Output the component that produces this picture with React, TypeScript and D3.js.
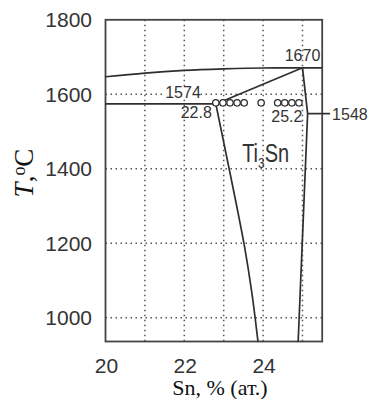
import React from "react";
import * as d3 from "d3";

const W = 370;
const H = 399;

const xTicks = [20, 22, 24];
const yTicks = [1000, 1200, 1400, 1600, 1800];
const xGrid = [21, 22, 23, 24, 25];
const yGrid = [1000, 1200, 1400, 1600];

// top curve (Sn %, T)
const topCurve: [number, number][] = [
  [20, 1647], [21, 1657], [22, 1664], [23, 1668], [24, 1670.5], [25, 1671], [25.5, 1671],
];
// horizontal at 1574
const line1574: [number, number][] = [[20, 1574], [22.8, 1574]];
// line from 22.8 up to maximum 1670
const riseLine: [number, number][] = [[22.8, 1574], [25.0, 1671]];
// right boundary of Ti3Sn
const rightBoundary: [number, number][] = [[25.0, 1671], [25.13, 1548], [24.89, 936]];
// left boundary of Ti3Sn
const leftBoundary: [number, number][] = [
  [22.8, 1574], [23.08, 1430], [23.33, 1300], [23.53, 1190], [23.71, 1070], [23.87, 936],
];
// 1548 tick
const line1548: [number, number][] = [[25.13, 1548], [25.7, 1548]];
// experimental points
const pointsX = [22.8, 22.98, 23.16, 23.34, 23.52, 23.95, 24.37, 24.55, 24.73, 24.91];
const pointsT = 1577;

export default function App() {
  const x = d3.scaleLinear().domain([20, 25.5]).range([105.5, 322.2]);
  const y = d3.scaleLinear().domain([936, 1800]).range([341.5, 19.8]);
  const line = d3.line<[number, number]>().x((d) => x(d[0])).y((d) => y(d[1]));
  const curve = d3
    .line<[number, number]>()
    .x((d) => x(d[0]))
    .y((d) => y(d[1]))
    .curve(d3.curveMonotoneX);
  const curveV = d3
    .line<[number, number]>()
    .x((d) => x(d[0]))
    .y((d) => y(d[1]))
    .curve(d3.curveMonotoneY);

  const left = x(20);
  const right = x(25.5);
  const top = y(1800);
  const bottom = y(936);
  const lineColor = "#2e2e2e";
  const textColor = "#333";
  const sans = "'Liberation Sans', Arial, sans-serif";
  const serif = "'Liberation Serif', 'Times New Roman', serif";

  return (
    <svg
      width={W}
      height={H}
      style={{ position: "absolute", left: 0, top: 0, display: "block", background: "#fff" }}
    >
      {/* grid */}
      {xGrid.map((v) => (
        <line
          key={"gx" + v}
          x1={x(v)}
          x2={x(v)}
          y1={top}
          y2={bottom}
          stroke="#555"
          strokeWidth={1.5}
          strokeDasharray="1.5,3.5"
        />
      ))}
      {yGrid.map((v) => (
        <line
          key={"gy" + v}
          x1={left}
          x2={right}
          y1={y(v)}
          y2={y(v)}
          stroke="#555"
          strokeWidth={1.5}
          strokeDasharray="1.5,3.5"
        />
      ))}

      {/* frame */}
      <rect
        x={left}
        y={top}
        width={right - left}
        height={bottom - top}
        fill="none"
        stroke="#444"
        strokeWidth={1.8}
      />

      {/* phase lines */}
      <path d={curve(topCurve) || ""} fill="none" stroke={lineColor} strokeWidth={1.7} />
      <path d={line(line1574) || ""} fill="none" stroke={lineColor} strokeWidth={1.7} />
      <path d={line(riseLine) || ""} fill="none" stroke={lineColor} strokeWidth={1.7} />
      <path d={line(rightBoundary) || ""} fill="none" stroke={lineColor} strokeWidth={1.7} />
      <path d={curveV(leftBoundary) || ""} fill="none" stroke={lineColor} strokeWidth={1.7} />
      <path d={line(line1548) || ""} fill="none" stroke={lineColor} strokeWidth={1.7} />

      {/* label background */}
      <rect x={x(22.8) - 53} y={y(1574) - 18} width={38} height={13} fill="#fff" />

      {/* points */}
      {pointsX.map((v, i) => (
        <circle
          key={"p" + i}
          cx={x(v)}
          cy={y(pointsT)}
          r={3.2}
          fill="#fff"
          stroke={lineColor}
          strokeWidth={1.3}
        />
      ))}

      {/* annotations */}
      <g fontFamily={sans} fontSize={16} fill={textColor}>
        <text x={x(22.8) - 15} y={y(1574) - 6} textAnchor="end">1574</text>
        <text x={x(22.8) - 4} y={y(1574) + 14} textAnchor="end">22.8</text>
        <text x={x(25.2) - 8} y={y(1574) + 18} textAnchor="end">25.2</text>
        <text x={x(25.0)} y={y(1671) - 7} textAnchor="middle">1670</text>
        <text x={x(25.7) + 2} y={y(1548) + 6}>1548</text>
      </g>
      <g transform={`translate(${x(23.95) - 19},${162}) scale(0.8,1)`} fill={textColor} fontFamily={sans}>
        <text fontSize={25}>
          Ti<tspan fontSize={15} dy={6}>3</tspan>
          <tspan dy={-6}>Sn</tspan>
        </text>
      </g>

      {/* tick labels */}
      <g fontFamily={sans} fontSize={21} fill={textColor}>
        {yTicks.map((v) => (
          <text key={"yt" + v} x={92} y={y(v) + 7.5} textAnchor="end">
            {v}
          </text>
        ))}
        {xTicks.map((v) => (
          <text key={"xt" + v} x={x(v) + 1} y={373} textAnchor="middle">
            {v}
          </text>
        ))}
      </g>

      {/* axis titles */}
      <text
        transform="translate(33,173) rotate(-90)"
        textAnchor="middle"
        fontFamily={serif}
        fontSize={27}
        fill="#111"
      >
        <tspan fontStyle="italic">T</tspan>,<tspan fontSize={18} dy={-8}>o</tspan>
        <tspan dy={8}>C</tspan>
      </text>
      <text x={220} y={395} textAnchor="middle" fontFamily={serif} fontSize={22} fill="#111">
        Sn, % (ат.)
      </text>
    </svg>
  );
}
